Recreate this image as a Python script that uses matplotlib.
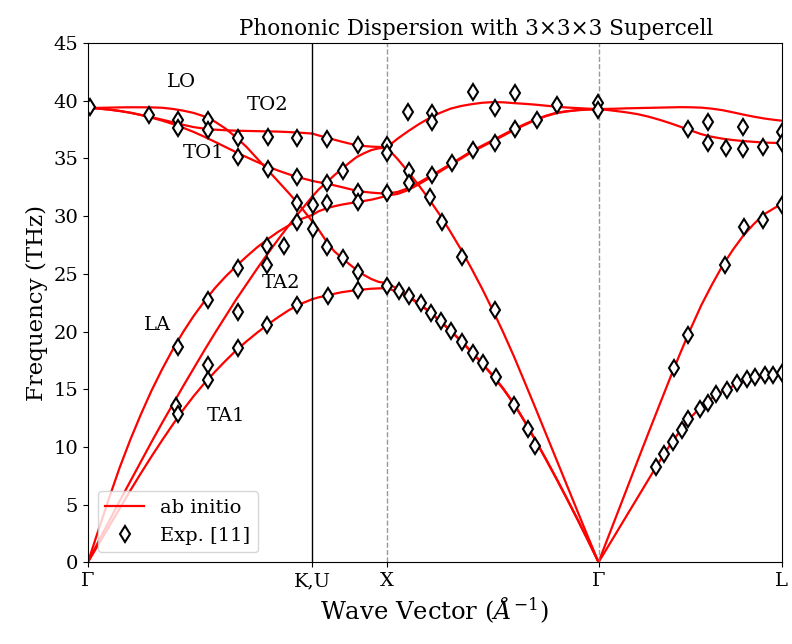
import matplotlib
matplotlib.use('Agg')
import matplotlib.pyplot as plt

plt.rcParams['font.family'] = 'serif'
plt.rcParams['mathtext.fontset'] = 'dejavuserif'
plt.rcParams['font.size'] = 14

# high-symmetry points (2pi/a units)
G1, K, X, G2, L = 0.0, 1.0607, 1.4142, 2.4142, 3.2802
tick_pos = [G1, K, X, G2, L]
tick_lab = ['Γ', 'K,U', 'X', 'Γ', 'L']

# ab initio branches, segment by segment
x_gk = [0.0, 0.05, 0.1, 0.15, 0.2, 0.25, 0.3, 0.35, 0.4, 0.45, 0.5,
        0.55, 0.6, 0.65, 0.7, 0.75, 0.8, 0.85, 0.9, 0.95, 1.0, 1.0607]
lo_gk = [39.37, 39.39, 39.41, 39.43, 39.44, 39.44, 39.43, 39.40, 39.30, 39.15, 38.95,
         38.65, 38.20, 37.60, 36.85, 36.00, 35.00, 34.00, 33.00, 32.00, 30.95, 29.55]
to2_gk = [39.37, 39.33, 39.24, 39.12, 38.97, 38.78, 38.58, 38.37, 38.15, 37.92, 37.72,
          37.59, 37.50, 37.45, 37.41, 37.39, 37.37, 37.35, 37.33, 37.29, 37.24, 37.16]
to1_gk = [39.37, 39.33, 39.24, 39.12, 38.97, 38.77, 38.54, 38.29, 38.00, 37.67, 37.30,
          36.89, 36.45, 36.00, 35.55, 35.12, 34.70, 34.31, 33.95, 33.63, 33.35, 33.06]
la_gk = [0.0, 2.80, 5.55, 8.20, 10.60, 12.80, 14.85, 16.70, 18.40, 19.95, 21.35,
         22.60, 23.75, 24.75, 25.65, 26.50, 27.30, 28.00, 28.65, 29.20, 29.70, 30.10]
ta2_gk = [0.0, 1.80, 3.55, 5.30, 7.00, 8.70, 10.40, 12.05, 13.65, 15.25, 16.80,
          18.35, 19.85, 21.30, 22.75, 24.10, 25.45, 26.75, 28.00, 29.20, 30.35, 31.70]
ta1_gk = [0.0, 1.55, 3.10, 4.65, 6.20, 7.70, 9.15, 10.55, 11.90, 13.20, 14.40,
          15.50, 16.50, 17.45, 18.35, 19.15, 19.90, 20.60, 21.25, 21.85, 22.35, 22.80]

x_kx = [1.0607, 1.09, 1.13, 1.165, 1.2, 1.235, 1.27, 1.305, 1.34, 1.375, 1.4142]
to2_kx = [37.16, 37.00, 36.81, 36.63, 36.46, 36.30, 36.16, 36.08, 36.03, 36.00, 35.98]
to1_kx = [33.06, 32.95, 32.82, 32.67, 32.52, 32.36, 32.21, 32.11, 32.04, 31.99, 31.96]
la_kx = [30.10, 30.42, 30.69, 30.86, 31.00, 31.11, 31.21, 31.32, 31.43, 31.58, 31.78]
lo_kx = [29.55, 28.85, 27.75, 26.95, 26.40, 25.85, 25.35, 24.90, 24.55, 24.30, 24.19]
ta2_kx = [31.70, 32.30, 32.95, 33.55, 34.08, 34.62, 35.12, 35.45, 35.73, 35.88, 35.94]
ta1_kx = [22.80, 22.96, 23.11, 23.27, 23.41, 23.50, 23.58, 23.65, 23.71, 23.74, 23.76]

x_xg = [1.4142, 1.4642, 1.5142, 1.5642, 1.6142, 1.6642, 1.7142, 1.7642, 1.8142, 1.8642, 1.9142,
        1.9642, 2.0142, 2.0642, 2.1142, 2.1642, 2.2142, 2.2642, 2.3142, 2.3642, 2.4142]
top_xg = [35.98, 36.72, 37.37, 37.97, 38.50, 38.95, 39.32, 39.55, 39.71, 39.83, 39.89,
          39.87, 39.80, 39.74, 39.67, 39.58, 39.49, 39.42, 39.37, 39.32, 39.28]
toa_xg = [31.96, 32.10, 32.43, 32.90, 33.43, 33.97, 34.51, 35.08, 35.64, 36.12, 36.59,
          37.07, 37.54, 37.97, 38.37, 38.70, 38.97, 39.10, 39.19, 39.25, 39.28]
tob_xg = [31.78, 31.93, 32.26, 32.76, 33.30, 33.86, 34.42, 34.99, 35.55, 36.03, 36.50,
          36.98, 37.46, 37.90, 38.32, 38.66, 38.93, 39.08, 39.19, 39.25, 39.28]
la_xg = [35.94, 34.95, 33.84, 32.68, 31.44, 30.10, 28.64, 27.10, 25.44, 23.70, 21.84,
         19.90, 17.84, 15.65, 13.44, 11.19, 8.94, 6.69, 4.44, 2.20, 0.0]
taa_xg = [24.19, 23.70, 23.10, 22.45, 21.75, 20.95, 20.10, 19.20, 18.25, 17.25, 16.20,
          15.05, 13.75, 12.25, 10.65, 9.00, 7.30, 5.55, 3.75, 1.90, 0.0]
tab_xg = [23.76, 23.45, 23.00, 22.40, 21.70, 20.90, 20.05, 19.15, 18.20, 17.20, 16.15,
          15.00, 13.70, 12.20, 10.60, 8.95, 7.25, 5.50, 3.72, 1.88, 0.0]

x_gl = [2.4142, 2.45, 2.5, 2.55, 2.6, 2.65, 2.7, 2.75, 2.8, 2.85,
        2.9, 2.95, 3.0, 3.05, 3.1, 3.15, 3.2, 3.25, 3.2802]
lo_gl = [39.28, 39.30, 39.32, 39.35, 39.37, 39.39, 39.41, 39.43, 39.45, 39.44,
         39.41, 39.32, 39.19, 39.00, 38.80, 38.62, 38.46, 38.34, 38.28]
to_gl = [39.28, 39.22, 39.11, 38.99, 38.84, 38.63, 38.37, 38.08, 37.76, 37.43,
         37.11, 36.88, 36.72, 36.60, 36.51, 36.44, 36.38, 36.35, 36.33]
la_gl = [0.0, 1.71, 4.08, 6.46, 8.84, 11.20, 13.53, 15.85, 18.10, 20.25,
         22.28, 24.05, 25.70, 27.10, 28.35, 29.35, 30.20, 30.75, 31.00]
ta_gl = [0.0, 1.08, 2.60, 4.12, 5.64, 7.16, 8.67, 10.10, 11.40, 12.55,
         13.50, 14.22, 14.80, 15.27, 15.65, 15.92, 16.10, 16.27, 16.35]

# experimental points [11]
exp_x = [0.009, 0.288, 0.425, 0.425, 0.567, 0.567, 0.709, 0.709, 0.851, 0.851, 0.988, 0.988,
         1.129, 1.276, 1.414, 1.414, 1.205, 1.129, 1.276, 1.276, 1.414, 1.063, 1.129,
         0.425, 0.416, 0.425, 0.567, 0.567, 0.567, 0.709, 0.709, 0.709, 0.846, 0.846, 0.846,
         0.926, 0.988, 0.988, 0.988, 1.063, 1.129, 1.134, 1.205, 1.276, 1.276, 1.414,
         1.512, 1.626, 1.626, 1.819, 1.923, 2.018, 2.216, 2.410, 2.410, 2.122, 2.018, 1.923,
         1.819, 1.720, 1.626, 1.517, 1.517, 1.616, 1.673, 1.767, 1.470, 1.517, 1.574, 1.621,
         1.668, 1.716, 1.767, 1.819, 1.867, 1.923, 1.928, 2.013, 2.079, 2.112,
         2.836, 2.934, 2.934, 3.015, 3.095, 3.095, 3.190, 3.280, 3.280, 3.280, 3.190, 3.100,
         3.011, 2.836, 2.769, 2.684, 2.722, 2.765, 2.807, 2.836, 2.892, 2.934, 2.968, 3.020,
         3.067, 3.114, 3.152, 3.199, 3.237, 3.280]
exp_y = [39.45, 38.76, 38.32, 37.63, 38.32, 37.46, 36.76, 35.12, 36.85, 34.08, 36.76, 33.38,
         36.68, 36.16, 36.16, 35.46, 33.90, 32.86, 32.08, 31.22, 32.00, 30.95, 31.13,
         18.64, 13.53, 12.83, 22.72, 17.08, 15.78, 25.49, 21.68, 18.56, 27.40, 25.75, 20.55,
         27.40, 31.13, 29.48, 22.28, 28.87, 27.31, 23.06, 26.36, 25.14, 23.58, 23.93,
         39.02, 38.93, 38.15, 40.75, 39.37, 40.67, 39.63, 39.80, 39.19, 38.32, 37.54, 36.33,
         35.72, 34.60, 33.56, 33.90, 32.86, 31.65, 29.48, 26.45, 23.50, 23.06, 22.46, 21.59,
         20.90, 20.03, 19.08, 18.12, 17.25, 21.85, 16.04, 13.61, 11.53, 10.06,
         37.54, 38.15, 36.33, 35.90, 37.72, 35.81, 35.98, 37.28, 36.33, 30.95, 29.65, 29.05,
         25.75, 19.68, 16.82, 8.24, 9.36, 10.40, 11.45, 12.40, 13.27, 13.79, 14.57, 14.91,
         15.52, 15.87, 16.04, 16.21, 16.21, 16.39]

branches = [
    (x_gk, lo_gk), (x_gk, to2_gk), (x_gk, to1_gk), (x_gk, la_gk), (x_gk, ta2_gk), (x_gk, ta1_gk),
    (x_kx, to2_kx), (x_kx, to1_kx), (x_kx, la_kx), (x_kx, lo_kx), (x_kx, ta2_kx), (x_kx, ta1_kx),
    (x_xg, top_xg), (x_xg, toa_xg), (x_xg, tob_xg), (x_xg, la_xg), (x_xg, taa_xg), (x_xg, tab_xg),
    (x_gl, lo_gl), (x_gl, to_gl), (x_gl, la_gl), (x_gl, ta_gl),
]

fig = plt.figure(figsize=(7.92, 6.44), dpi=100)
ax = fig.add_axes([0.111, 0.127, 0.876, 0.806])

for i, (xs, ys) in enumerate(branches):
    ax.plot(xs, ys, color='red', lw=1.6, label='ab initio' if i == 0 else None)

ax.axvline(K, color='black', lw=1)
ax.axvline(X, color='grey', ls='--', lw=1, alpha=0.8)
ax.axvline(G2, color='grey', ls='--', lw=1, alpha=0.8)

ax.plot(exp_x, exp_y, 'd', ls='none', mfc='white', mec='black', mew=1.5, ms=8.5, label='Exp. [11]')

labels = [('LO', 0.444, 41.6), ('TO2', 0.851, 39.6), ('TO1', 0.548, 35.5),
          ('LA', 0.331, 20.6), ('TA2', 0.912, 24.2), ('TA1', 0.652, 12.7)]
for txt, lx, ly in labels:
    ax.text(lx, ly, txt, ha='center', va='center', fontsize=14)

ax.set_xlim(G1, L)
ax.set_ylim(0, 45)
ax.set_xticks(tick_pos)
ax.set_xticklabels(tick_lab)
ax.set_yticks(range(0, 46, 5))
ax.set_xlabel(r'Wave Vector ($\AA^{-1}$)', fontsize=17.5)
ax.set_ylabel('Frequency (THz)', fontsize=16.5)
ax.set_title('Phononic Dispersion with 3×3×3 Supercell', fontsize=15.5, x=0.56)
ax.legend(loc='lower left')

fig.savefig('out.png', dpi=100)
